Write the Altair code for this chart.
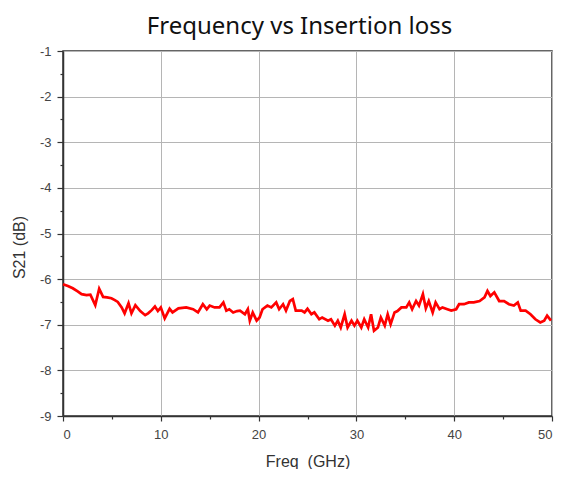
import altair as alt
import pandas as pd

freq = [0.0, 0.5, 1.0, 1.5, 1.9, 2.4, 2.8, 3.3, 3.7, 4.1, 4.5, 4.95, 5.3, 5.6, 6.0, 6.3, 6.7, 7.0, 7.4, 7.9,
        8.4, 8.7, 9.07, 9.4, 9.7, 10.0, 10.4, 10.9, 11.2, 11.8, 12.6, 13.3, 13.8, 14.3, 14.7, 15.0, 15.5, 16.0,
        16.4, 16.7, 17.0, 17.4, 17.8, 18.1, 18.6, 18.9, 19.1, 19.4, 19.8, 20.1, 20.4, 20.9, 21.3, 21.8, 22.1,
        22.5, 22.8, 23.2, 23.5, 23.8, 24.4, 24.7, 25.0, 25.4, 25.7, 26.2, 26.5, 27.1, 27.4, 27.8, 28.1, 28.4,
        28.8, 29.1, 29.5, 29.8, 30.1, 30.5, 30.8, 31.2, 31.5, 31.8, 32.2, 32.5, 32.9, 33.2, 33.5, 33.9, 34.2,
        34.6, 35.1, 35.4, 35.7, 36.1, 36.4, 36.8, 37.1, 37.4, 37.8, 38.1, 38.5, 38.8, 39.3, 39.7, 40.2, 40.5,
        41.0, 41.5, 42.0, 42.6, 43.1, 43.4, 43.7, 44.1, 44.6, 45.1, 45.6, 46.1, 46.5, 46.8, 47.3, 47.8, 48.3,
        48.8, 49.2, 49.5, 49.9]
s21 = [-6.11, -6.15, -6.2, -6.27, -6.33, -6.35, -6.34, -6.57, -6.21, -6.39, -6.40, -6.42, -6.46, -6.5, -6.62,
       -6.75, -6.53, -6.75, -6.57, -6.7, -6.79, -6.75, -6.68, -6.6, -6.7, -6.62, -6.86, -6.65, -6.73, -6.64,
       -6.62, -6.66, -6.73, -6.55, -6.66, -6.58, -6.62, -6.62, -6.51, -6.69, -6.66, -6.73, -6.7, -6.69, -6.77,
       -6.66, -6.91, -6.73, -6.91, -6.84, -6.66, -6.58, -6.62, -6.51, -6.66, -6.55, -6.69, -6.48, -6.44, -6.69,
       -6.69, -6.73, -6.65, -6.77, -6.73, -6.88, -6.84, -6.91, -6.88, -7.02, -6.91, -7.06, -6.77, -7.06, -6.91,
       -7.02, -6.91, -7.06, -6.88, -7.06, -6.77, -7.13, -7.06, -6.84, -7.02, -6.77, -6.99, -6.73, -6.7, -6.62,
       -6.62, -6.51, -6.66, -6.48, -6.58, -6.33, -6.64, -6.48, -6.73, -6.51, -6.66, -6.62, -6.66, -6.69, -6.66,
       -6.55, -6.55, -6.51, -6.51, -6.48, -6.40, -6.26, -6.37, -6.29, -6.48, -6.48, -6.55, -6.58, -6.51, -6.69,
       -6.69, -6.77, -6.88, -6.95, -6.91, -6.80, -6.91]

x_major = [0, 10, 20, 30, 40, 50]
x_minor = [5, 15, 25, 35, 45]
y_major = [-9, -8, -7, -6, -5, -4, -3, -2, -1]
y_minor = [-8.5, -7.5, -6.5, -5.5, -4.5, -3.5, -2.5, -1.5]

df = pd.DataFrame({"freq": freq, "s21": s21})

xscale = alt.Scale(domain=[0, 50], nice=False)
yscale = alt.Scale(domain=[-9, -1], nice=False)

label_font = "Liberation Sans"

main = alt.Chart(df).mark_line(color="#ff0000", strokeWidth=2.7).encode(
    x=alt.X("freq:Q", scale=xscale, axis=alt.Axis(
        values=x_major, orient="bottom", title="Freq\u00a0 (GHz)", grid=True, tickSize=5,
        labelPadding=7, titlePadding=12, labelExpr="datum.value + ''")),
    y=alt.Y("s21:Q", scale=yscale, axis=alt.Axis(
        values=y_major, orient="left", title="S21 (dB)", grid=True, tickSize=6,
        labelPadding=6, titlePadding=12, titleY=196, labelExpr="datum.value + ''")),
)

minor = alt.Chart(df).mark_line(opacity=0).encode(
    x=alt.X("freq:Q", scale=xscale, axis=alt.Axis(
        values=x_minor, orient="bottom", title=None, labels=False, grid=False,
        domain=False, tickSize=3)),
    y=alt.Y("s21:Q", scale=yscale, axis=alt.Axis(
        values=y_minor, orient="left", title=None, labels=False, grid=False,
        domain=False, tickSize=3)),
)

chart = alt.layer(minor, main).resolve_axis(x="independent", y="independent").properties(
    width=489,
    height=365,
    autosize=alt.AutoSizeParams(type="none"),
    padding={"left": 55, "top": 43, "right": 5, "bottom": 53},
    title=alt.Title("Frequency vs Insertion loss", fontSize=24, font="Noto Sans",
                    fontWeight="normal", color="#111",
                    anchor="middle", offset=6, dx=-8),
).configure_view(
    stroke="#333", strokeWidth=1.5
).configure_axis(
    domainColor="#333", domainWidth=1.5, tickColor="#333", tickWidth=1.2,
    gridColor="#b5b5b5", gridWidth=1,
    labelFont=label_font, labelFontSize=13, labelColor="#444",
    titleFont=label_font, titleFontSize=16, titleFontWeight="normal", titleColor="#333",
)

chart.save("out.html", embed_options={"renderer": "svg", "actions": False})
